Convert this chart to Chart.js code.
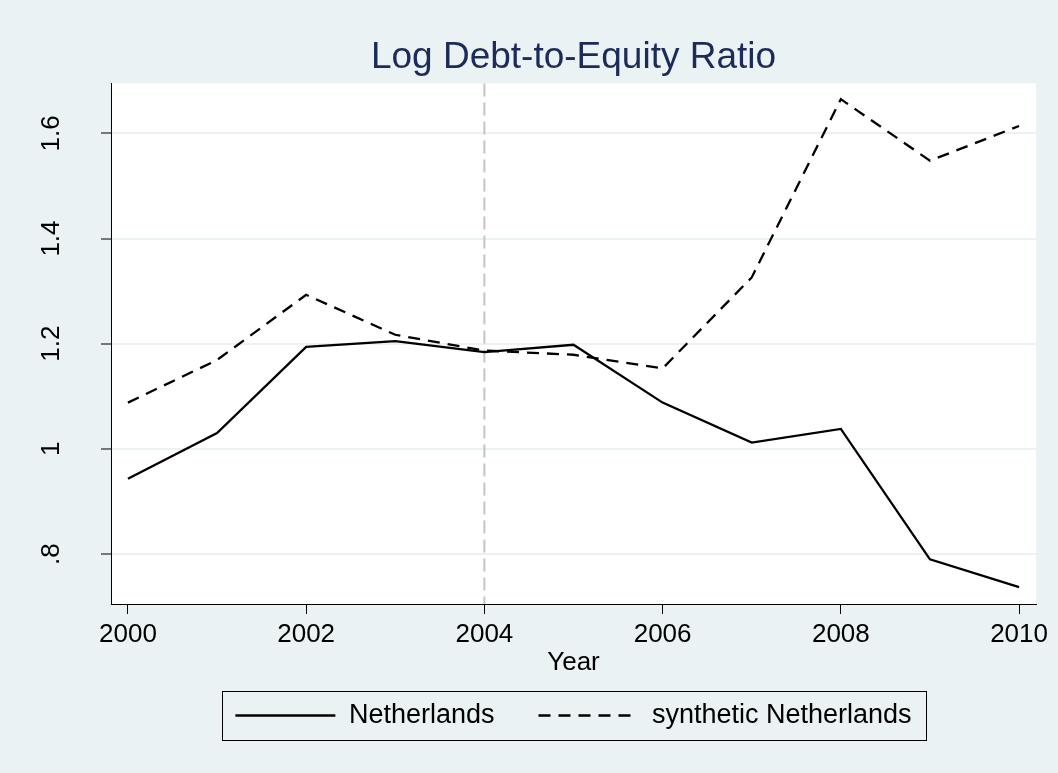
<!DOCTYPE html>
<html>
<head>
<meta charset="utf-8">
<script src="https://cdn.jsdelivr.net/npm/chart.js@4/dist/chart.umd.min.js"></script>
<style>
  html, body { margin: 0; padding: 0; background: #eaf2f3; }
</style>
</head>
<body>
<canvas id="c" width="1058" height="773"></canvas>
<script>
'use strict';

// ---------------------------------------------------------------- data
const years = [2000, 2001, 2002, 2003, 2004, 2005, 2006, 2007, 2008, 2009, 2010];
const netherlands = [0.943, 1.030, 1.194, 1.205, 1.184, 1.198, 1.088, 1.012, 1.038, 0.790, 0.737];
const synthetic = [1.088, 1.169, 1.293, 1.217, 1.187, 1.179, 1.153, 1.326, 1.665, 1.548, 1.614];
const xTicks = [2000, 2002, 2004, 2006, 2008, 2010];
const yTicks = [0.8, 1.0, 1.2, 1.4, 1.6];
const yTickLabels = ['.8', '1', '1.2', '1.4', '1.6'];
const treatYear = 2004;

const BG = '#eaf2f3';
const FONT = "'Liberation Sans', Arial, sans-serif";
const legendPad = 44;

Chart.defaults.font.family = FONT;
Chart.defaults.color = '#000';

const pts = (arr) => arr.map((v, i) => ({ x: years[i], y: v }));

// white plot region + dashed treatment line
const plotBg = {
  id: 'plotBg',
  beforeDraw(chart) {
    const { ctx, chartArea: a } = chart;
    ctx.save();
    ctx.fillStyle = '#fff';
    ctx.fillRect(a.left, a.top, a.right - a.left, a.bottom - a.top);
    ctx.restore();
  },
  beforeDatasetsDraw(chart) {
    const { ctx, chartArea: a } = chart;
    const x = chart.scales.x.getPixelForValue(treatYear);
    ctx.save();
    ctx.strokeStyle = '#c4c4c4';
    ctx.lineWidth = 2;
    ctx.setLineDash([13, 6]);
    ctx.beginPath();
    ctx.moveTo(x, a.top);
    ctx.lineTo(x, a.bottom);
    ctx.stroke();
    ctx.restore();
  },
};

// stata-style legend: pull the row up under the axis title, draw a frame round it
const legendFrame = {
  id: 'legendFrame',
  afterLayout(chart) {
    chart.legend.top -= 20;
    chart.legend.bottom -= 20;
  },
  afterDraw(chart) {
    const hb = chart.legend.legendHitBoxes;
    if (!hb || !hb.length) return;
    const { ctx } = chart;
    const last = hb[hb.length - 1];
    const l = Math.round(hb[0].left - 13);
    const r = Math.round(last.left + last.width + 14);
    const cy = Math.round(hb[0].top + hb[0].height / 2);
    ctx.save();
    ctx.strokeStyle = '#000';
    ctx.lineWidth = 1;
    ctx.strokeRect(l + 0.5, cy - 24.5, r - l, 49);
    ctx.restore();
  },
};

new Chart(document.getElementById('c'), {
  type: 'line',
  data: {
    datasets: [
      { label: 'Netherlands', data: pts(netherlands), borderColor: '#000', borderWidth: 2.3,
        pointRadius: 0, pointStyle: 'line', tension: 0, fill: false },
      { label: 'synthetic Netherlands', data: pts(synthetic), borderColor: '#000', borderWidth: 2.3,
        borderDash: [12, 8], pointRadius: 0, pointStyle: 'line', tension: 0, fill: false },
    ],
  },
  options: {
    responsive: false,
    animation: false,
    layout: { padding: { left: 0, right: 22, top: 0, bottom: 14 } },
    scales: {
      x: {
        type: 'linear', min: 1999.81, max: 2010.19,
        afterBuildTicks: (s) => { s.ticks = xTicks.map((v) => ({ value: v })); },
        afterFit: (s) => { s.height = 74; },
        grid: { drawOnChartArea: false, tickLength: 10, tickColor: '#000', tickWidth: 1 },
        border: { color: '#000', width: 1 },
        ticks: { font: { size: 26 }, color: '#000', padding: 5, autoSkip: false, maxRotation: 0,
                 callback: (v) => String(v) },
        title: { display: true, text: 'Year', font: { size: 26 }, color: '#000', padding: { top: 0, bottom: 0 } },
      },
      y: {
        min: 0.705, max: 1.695,
        afterBuildTicks: (s) => { s.ticks = yTicks.map((v) => ({ value: v })); },
        afterFit: (s) => { s.width = 111; },
        grid: { color: BG, lineWidth: 2, tickLength: 10, tickColor: '#000', tickWidth: 1 },
        border: { color: '#000', width: 1 },
        ticks: { font: { size: 26 }, color: '#000', minRotation: 90, maxRotation: 90, crossAlign: 'center',
                 padding: 31, callback: (v) => yTickLabels[yTicks.indexOf(v)] ?? '' },
      },
    },
    plugins: {
      title: { display: true, fullSize: false, text: 'Log Debt-to-Equity Ratio', color: '#1c2b5a',
               font: { size: 37, weight: 'normal' }, padding: { top: 36, bottom: 3 } },
      legend: {
        position: 'bottom', fullSize: false,
        labels: {
          usePointStyle: true, pointStyleWidth: 100, boxHeight: 27, padding: legendPad,
          font: { size: 27 }, color: '#000',
          // point-style items lose the dataset dash, put it back
          generateLabels: (chart) => Chart.defaults.plugins.legend.labels.generateLabels(chart)
            .map((it) => ({ ...it, lineWidth: 2.3, lineDash: chart.data.datasets[it.datasetIndex].borderDash || [] })),
        },
      },
      tooltip: { enabled: false },
    },
  },
  plugins: [plotBg, legendFrame],
});
</script>
</body>
</html>
